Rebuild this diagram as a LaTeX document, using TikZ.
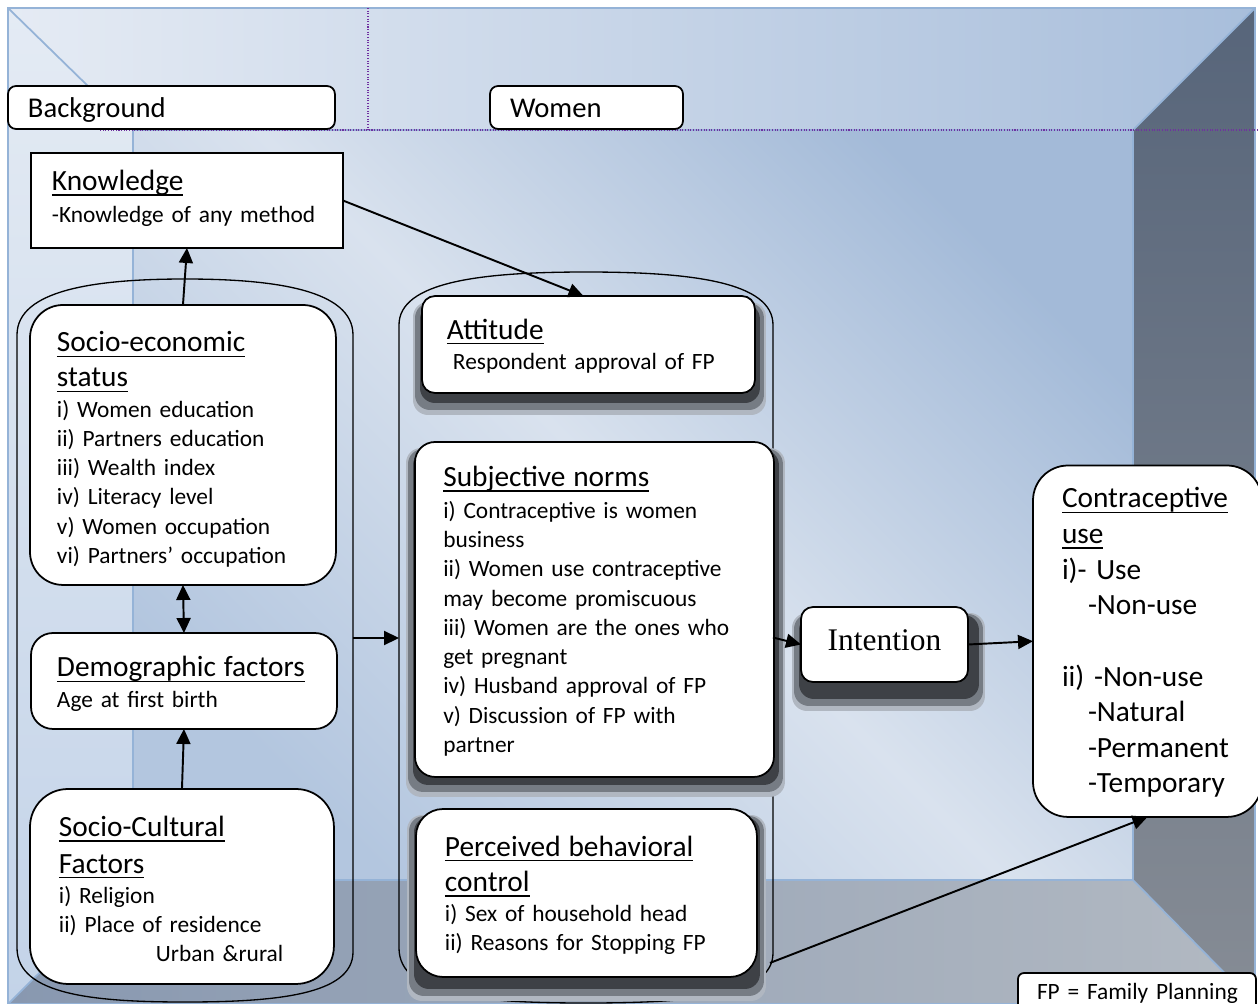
\documentclass[tikz,border=0pt]{standalone}
\usepackage{fontspec}
\setmainfont{Carlito}
\newfontfamily\tnr{Liberation Serif}
\usetikzlibrary{arrows.meta,calc}
\definecolor{edgeblue}{HTML}{95B3D7}
\definecolor{ceilL}{HTML}{E5EBF4}
\definecolor{ceilR}{HTML}{A8BEDB}
\definecolor{lwT}{HTML}{E4EBF4}
\definecolor{lwB}{HTML}{C3D3E8}
\definecolor{wallBL}{HTML}{B3C6DF}
\definecolor{wallMid}{HTML}{D9E2EE}
\definecolor{wallTR}{HTML}{A3BAD8}
\definecolor{rwT}{HTML}{57657A}
\definecolor{rwB}{HTML}{868C95}
\definecolor{flL}{HTML}{8898B0}
\definecolor{flR}{HTML}{B2B9C2}
\definecolor{dotpurple}{HTML}{7030A0}
\definecolor{shA}{HTML}{B0B7C1}
\definecolor{shB}{HTML}{767C84}
\definecolor{shC}{HTML}{3E4146}
\pgfdeclarehorizontalshading{wallsh}{100bp}{color(0bp)=(wallBL); color(25bp)=(wallBL); color(50bp)=(wallMid); color(75bp)=(wallTR); color(100bp)=(wallTR)}
\pgfdeclarelayer{room}
\pgfdeclarelayer{cont}
\pgfdeclarelayer{shade}
\pgfsetlayers{room,cont,shade,main}
\newcommand\itemfnt{\fontsize{13.3}{16.65}\selectfont\lineskiplimit=-20pt\relax}
\newcommand\titlefnt{\fontsize{16.7}{20}\selectfont}
\newcommand\bgfnt{\fontsize{16.3}{19.5}\selectfont\lineskiplimit=-20pt\relax}
\newcommand\cufnt{\fontsize{16.7}{20.27}\selectfont\lineskiplimit=-20pt\relax}
\newcommand\intfnt{\tnr\fontsize{17.9}{21}\selectfont}
\newcommand\undl[1]{\leavevmode\setbox0=\hbox{#1}\rlap{\rule[-2.9pt]{\wd0}{0.8pt}}\box0}
\newcommand\bxl[1]{\raggedright\setlength\leftskip{#1}}
\newcommand\dropsh[3]{%
  \begin{pgfonlayer}{shade}
    \fill[shA, rounded corners=0.3cm] ($(#1.north west)+(-9,6)$) rectangle ($(#1.south east)+(#2+2,#3+3)$);
    \fill[shB, rounded corners=0.3cm] ($(#1.north west)+(-7,7)$) rectangle ($(#1.south east)+(#2,#3-2)$);
    \fill[shC, rounded corners=0.3cm] ($(#1.north west)+(-2,8)$) rectangle ($(#1.south east)+(#2-4,#3-9)$);
  \end{pgfonlayer}}
\tikzset{
  box/.style={draw=black, line width=1pt, fill=white, inner sep=0pt, outer sep=0pt,
    anchor=north west, font=\itemfnt},
  arr/.style={line width=1.1pt, -{Triangle[length=0.3cm,width=0.28cm]}},
  darr/.style={line width=1.1pt, {Triangle[length=0.3cm,width=0.28cm]}-{Triangle[length=0.3cm,width=0.28cm]}},
  contline/.style={draw=black, line width=0.75pt},
  edge/.style={draw=edgeblue, line width=1pt},
  purpledots/.style={draw=dotpurple, line width=0.7pt, dash pattern=on 0.6pt off 0.9pt}
}
\begin{document}
\begin{tikzpicture}[x=0.02cm, y=-0.02cm]
\useasboundingbox (0,0) rectangle (1258,1004);
\clip (0,0) rectangle (1258,1004);
\begin{pgfonlayer}{room}
  \fill[white] (0,0) rectangle (1258,1004);
  \shade[left color=ceilL, right color=ceilR] (8,8) -- (1255,8) -- (1133,130) -- (133,130) -- cycle;
  \shade[top color=lwT, bottom color=lwB] (8,8) -- (133,130) -- (133,880) -- (8,1004) -- cycle;
  \shade[shading=wallsh, shading angle=45] (133,130) rectangle (1133,880);
  \shade[top color=rwT, bottom color=rwB] (1133,130) -- (1255,8) -- (1255,1004) -- (1133,880) -- cycle;
  \shade[left color=flL, right color=flR] (133,880) -- (1133,880) -- (1255,1004) -- (8,1004) -- cycle;
  \draw[edge] (8,8) rectangle (1255,1004);
  \draw[edge] (133,130) rectangle (1133,880);
  \draw[edge] (8,8) -- (133,130);
  \draw[edge] (1255,8) -- (1133,130);
  \draw[edge] (1133,880) -- (1255,1004);
  \draw[edge] (133,880) -- (8,1004);
  \draw[purpledots] (100,130) -- (1258,130);
  \draw[purpledots] (368,8) -- (368,130);
\end{pgfonlayer}

% containers
\node[inner sep=0pt, outer sep=0pt, minimum width=6.72cm, minimum height=14.46cm] (lc) at (185,638) {};
\node[inner sep=0pt, outer sep=0pt, minimum width=7.48cm, minimum height=14.62cm] (mc) at (586,637.5) {};
\begin{pgfonlayer}{cont}
  \draw[contline] (17,948) -- (17,335) .. controls (17,290) and (95,279) .. (185,279)
    .. controls (275,279) and (353,290) .. (353,335) -- (353,952)
    .. controls (353,995) and (275,1002) .. (185,1002)
    .. controls (95,1002) and (17,995) .. (17,948) -- cycle;
  \draw[contline] (399,948) -- (399,325) .. controls (399,282) and (480,272) .. (586,272)
    .. controls (692,272) and (773,282) .. (773,325) -- (773,953)
    .. controls (773,996) and (692,1003) .. (586,1003)
    .. controls (480,1003) and (399,996) .. (399,948) -- cycle;
\end{pgfonlayer}

% labels
\node[box, rounded corners=0.16cm, text width=6.54cm, text height=0.64cm, text depth=0.22cm, font=\bgfnt] (bg) at (8,86) {\bxl{0.40cm}Background\par};
\node[box, rounded corners=0.16cm, text width=3.86cm, text height=0.64cm, text depth=0.22cm, font=\bgfnt] (women) at (490,86) {\bxl{0.40cm}Women\par};

% left column
\node[box, text width=6.24cm, text height=0.754cm, text depth=1.146cm] (kn) at (31,153)
  {\bxl{0.42cm}{\titlefnt\undl{Knowledge}}\\[0.046cm]-Knowledge of any method\par};
\node[box, rounded corners=0.66cm, text width=6.12cm, text height=0.94cm, text depth=4.66cm] (se) at (30,305)
  {\bxl{0.54cm}{\titlefnt\undl{Socio-economic}}\\[0.115cm]{\titlefnt\undl{status}}\\[0.015cm]i) Women education\\ ii) Partners education\\ iii) Wealth index\\ iv) Literacy level\\ v) Women occupation\\ vi) Partners’ occupation\par};
\node[box, rounded corners=0.44cm, text width=6.12cm, text height=0.88cm, text depth=1.04cm] (dm) at (31,633)
  {\bxl{0.52cm}{\titlefnt\undl{Demographic factors}}\\[0.015cm]Age at first birth\par};
\node[box, rounded corners=0.76cm, text width=6.08cm, text height=0.954cm, text depth=2.946cm] (sc) at (30,789)
  {\bxl{0.58cm}{\titlefnt\undl{Socio-Cultural}}\\[0.146cm]{\titlefnt\undl{Factors}}\\[0.015cm]i) Religion\\ ii) Place of residence\\ \hspace*{1.94cm}Urban \&rural\par};

% middle column
\node[box, rounded corners=0.26cm, text width=6.66cm, text height=0.866cm, text depth=1.074cm] (att) at (422,296)
  {\bxl{0.50cm}{\titlefnt\undl{Attitude}}\\[0.015cm]\hspace*{0.12cm}Respondent approval of FP\par};
\node[box, rounded corners=0.4cm, text width=7.18cm, text height=0.894cm, text depth=5.806cm] (sn) at (415,442)
  {\bxl{0.566cm}{\titlefnt\undl{Subjective norms}}\\[0.047cm]i) Contraceptive is women\\ business\\ ii) Women use contraceptive\\ may become promiscuous\\ iii) Women are the ones who\\ get pregnant\\ iv) Husband approval of FP\\ v) Discussion of FP with\\ partner\par};
\node[box, rounded corners=0.54cm, text width=6.82cm, text height=0.94cm, text depth=2.42cm] (pbc) at (416,809)
  {\bxl{0.58cm}{\titlefnt\undl{Perceived behavioral}}\\[0.129cm]{\titlefnt\undl{control}}\\[0.015cm]i) Sex of household head\\ ii) Reasons for Stopping FP\par};

% right
\node[box, rounded corners=0.24cm, text width=3.34cm, text height=0.88cm, text depth=0.62cm, font=\intfnt] (int) at (801,607) {\centering Intention\par};
\node[box, rounded corners=0.7cm, text width=4.58cm, text height=0.85cm, text depth=6.18cm, font=\cufnt] (cu) at (1033,465.5)
  {\bxl{0.58cm}\undl{Contraceptive}\\ \undl{use}\\ i)- Use\\ \hspace*{0.52cm}-Non-use\\ \mbox{}\\ ii) -Non-use\\ \hspace*{0.52cm}-Natural\\ \hspace*{0.52cm}-Permanent\\ \hspace*{0.52cm}-Temporary\par};
\node[box, rounded corners=0.12cm, text width=4.76cm, text height=0.52cm, text depth=0.4cm] (fp) at (1018,973)
  {\bxl{0.38cm}FP = Family Planning\par};

% shadows
\dropsh{att}{9}{19}
\dropsh{sn}{9}{17}
\dropsh{pbc}{7}{21}
\dropsh{int}{15}{26}

% connectors
\draw[arr] (se.north) -- (kn.south);
\draw[arr] (kn.east) -- ([xshift=-0.1cm]att.north);
\draw[darr] (se.south) -- (dm.north);
\draw[arr] (sc.north) -- (dm.south);
\draw[arr] (lc.east) -- (lc.east -| mc.west);
\draw[arr] (mc.east) -- (int.west);
\draw[arr] (int.east) -- (cu.west);
\draw[arr] ($(mc.south east)+(-3,-40)$) -- (cu.south);
\end{tikzpicture}
\end{document}
